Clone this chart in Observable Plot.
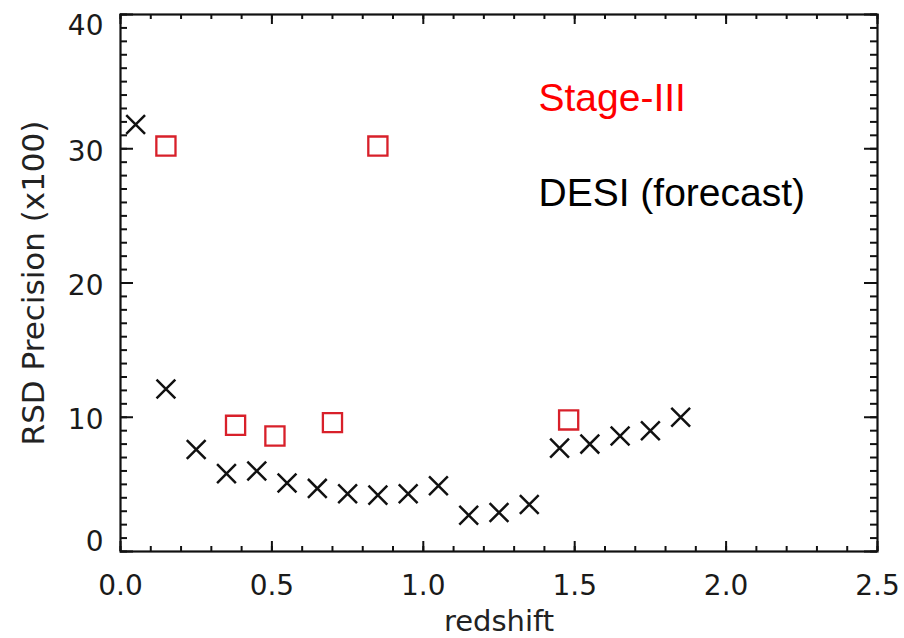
<!DOCTYPE html>
<html>
<head>
<meta charset="utf-8">
<script src="https://cdn.jsdelivr.net/npm/d3@7"></script>
<script src="https://cdn.jsdelivr.net/npm/@observablehq/plot@0.6"></script>
<style>
  html, body { margin: 0; padding: 0; background: #fff; }
  #chart { width: 904px; height: 638px; }
</style>
</head>
<body>
<div id="chart"></div>
<script>
// DESI (forecast) — crosses
const desiZ = [0.05, 0.15, 0.25, 0.35, 0.45, 0.55, 0.65, 0.75, 0.85, 0.95, 1.05, 1.15, 1.25, 1.35, 1.45, 1.55, 1.65, 1.75, 1.85];
const desiPrecision = [31.8, 12.1, 7.6, 5.8, 6.0, 5.1, 4.7, 4.3, 4.2, 4.3, 4.9, 2.7, 2.9, 3.5, 7.7, 8.0, 8.6, 9.0, 10.0];

// Stage-III — squares
const stage3Z = [0.15, 0.38, 0.51, 0.70, 0.85, 1.48];
const stage3Precision = [30.2, 9.4, 8.6, 9.6, 30.2, 9.8];

// Axis ticks
const xMajorTicks = [0, 0.5, 1.0, 1.5, 2.0, 2.5];
const xTickLabels = ["0.0", "0.5", "1.0", "1.5", "2.0", "2.5"];
const yMajorTicks = [0, 10, 20, 30, 40];
const yTickLabels = ["0", "10", "20", "30", "40"];
const xMinorTicks = d3.range(0, 26).map(i => i / 10);
const yMinorTicks = d3.range(0, 41);

const seriesNames = ["Stage-III", "DESI (forecast)"];
const xTitle = "redshift";
const yTitle = "RSD Precision (x100)";

const desi = desiZ.map((z, i) => ({z, p: desiPrecision[i]}));
const stage3 = stage3Z.map((z, i) => ({z, p: stage3Precision[i]}));
const xTicksL = xMajorTicks.map((v, i) => ({v, t: xTickLabels[i]}));
const yTicksL = yMajorTicks.map((v, i) => ({v, t: yTickLabels[i]}));

const W = 904, H = 638, mL = 120, mR = 27, mT = 14, mB = 87;
const innerW = W - mL - mR, innerH = H - mT - mB;
const axisColor = "#111";
const tickFont = 28;

const chart = Plot.plot({
  width: W, height: H,
  marginLeft: mL, marginRight: mR, marginTop: mT, marginBottom: mB,
  x: {domain: [0, 2.5], axis: null},
  y: {domain: [0, 40], axis: null},
  style: {fontFamily: "'DejaVu Sans', sans-serif", background: "#fff", overflow: "visible"},
  marks: [
    // minor/major ticks on bottom, top
    Plot.tickX(xMinorTicks, {x: d => d, insetTop: innerH - 5, stroke: axisColor, strokeWidth: 2}),
    Plot.tickX(xMinorTicks, {x: d => d, insetBottom: innerH - 5, stroke: axisColor, strokeWidth: 2}),
    Plot.tickX(xMajorTicks, {x: d => d, insetTop: innerH - 10, stroke: axisColor, strokeWidth: 2}),
    Plot.tickX(xMajorTicks, {x: d => d, insetBottom: innerH - 10, stroke: axisColor, strokeWidth: 2}),
    // ticks on left, right
    Plot.tickY(yMinorTicks, {y: d => d, insetRight: innerW - 7, stroke: axisColor, strokeWidth: 2}),
    Plot.tickY(yMinorTicks, {y: d => d, insetLeft: innerW - 7, stroke: axisColor, strokeWidth: 2}),
    Plot.tickY(yMajorTicks, {y: d => d, insetRight: innerW - 13, stroke: axisColor, strokeWidth: 2}),
    Plot.tickY(yMajorTicks, {y: d => d, insetLeft: innerW - 13, stroke: axisColor, strokeWidth: 2}),
    Plot.frame({stroke: axisColor, strokeWidth: 2.2}),
    // x tick labels
    Plot.text(xTicksL, {x: "v", text: "t", frameAnchor: "bottom", dy: 35, lineAnchor: "middle",
      fontSize: tickFont, fill: "#1a1a1a", letterSpacing: 1}),
    // y tick labels
    Plot.text(yTicksL.filter(d => d.v > 0 && d.v < 40), {y: "v", text: "t", frameAnchor: "left", dx: -17, dy: 3,
      textAnchor: "end", lineAnchor: "middle", fontSize: tickFont, fill: "#1a1a1a", letterSpacing: 1}),
    Plot.text(yTicksL.filter(d => d.v === 0), {y: "v", text: "t", frameAnchor: "left", dx: -17, dy: -9,
      textAnchor: "end", lineAnchor: "middle", fontSize: tickFont, fill: "#1a1a1a", letterSpacing: 1}),
    Plot.text(yTicksL.filter(d => d.v === 40), {y: "v", text: "t", frameAnchor: "left", dx: -17, dy: 12,
      textAnchor: "end", lineAnchor: "middle", fontSize: tickFont, fill: "#1a1a1a", letterSpacing: 1}),
    // axis titles
    Plot.text([xTitle], {frameAnchor: "bottom", dy: 70, lineAnchor: "middle", fontSize: 29, fill: "#222", letterSpacing: 1.5}),
    Plot.text([yTitle], {frameAnchor: "left", dx: -86, rotate: -90, textAnchor: "middle", lineAnchor: "middle",
      fontSize: 31, fill: "#222", letterSpacing: 3.5}),
    // data
    Plot.dot(stage3, {x: "z", y: "p", symbol: "square", r: 10.8, stroke: "#d8202a", strokeWidth: 2.3, fill: "none"}),
    Plot.dot(desi, {x: "z", y: "p", symbol: "times", r: 8.6, stroke: "#111", strokeWidth: 2.5}),
    // legend texts
    Plot.text([seriesNames[0]], {frameAnchor: "top-left", dx: 418, dy: 96, lineAnchor: "bottom",
      fontFamily: "'Liberation Sans', Arial, sans-serif", fontSize: 39, fill: "#ff0000"}),
    Plot.text([seriesNames[1]], {frameAnchor: "top-left", dx: 418, dy: 191, lineAnchor: "bottom",
      fontFamily: "'Liberation Sans', Arial, sans-serif", fontSize: 39, fill: "#000"})
  ]
});
document.getElementById("chart").appendChild(chart);
</script>
</body>
</html>
